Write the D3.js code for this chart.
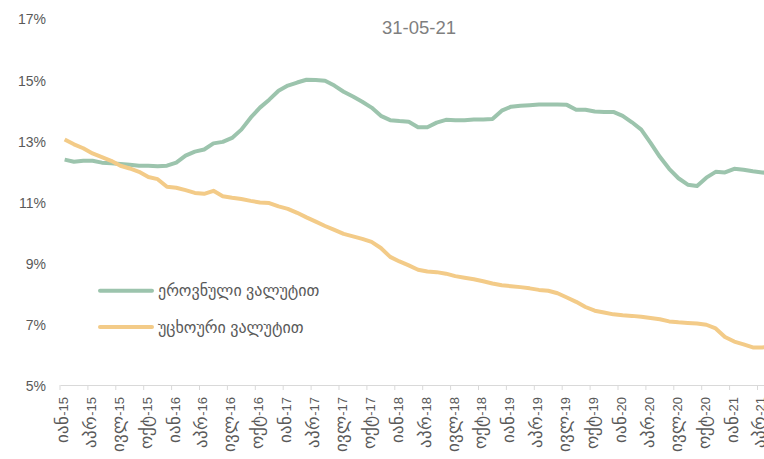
<!DOCTYPE html>
<html>
<head>
<meta charset="utf-8">
<script src="https://cdn.jsdelivr.net/npm/d3@7"></script>
<style>
  html, body { margin: 0; padding: 0; background: #fff; overflow: hidden; }
  svg { display: block; font-family: "Liberation Sans", "DejaVu Sans", sans-serif; }
</style>
</head>
<body>
<svg id="chart" width="764" height="459"></svg>
<script>
// Monthly series, Jan 2015 – May 2021 (percent)
const monthNames = ["იან", "თებ", "მარ", "აპრ", "მაი", "ივნ", "ივლ", "აგვ", "სექ", "ოქტ", "ნოე", "დეკ"];
const months = [];
for (let yr = 15; yr <= 21; yr++) {
  for (let m = 0; m < 12; m++) {
    if (yr === 21 && m > 4) break;
    months.push({ m, yr, label: monthNames[m] + "-" + yr });
  }
}

const nationalCurrency = [
  12.37, 12.30, 12.33, 12.33, 12.27, 12.25, 12.23, 12.20, 12.17, 12.17, 12.15, 12.17,
  12.27, 12.50, 12.63, 12.70, 12.90, 12.95, 13.08, 13.35, 13.74, 14.07, 14.33, 14.62,
  14.79, 14.89, 14.98, 14.97, 14.95, 14.79, 14.59, 14.43, 14.26, 14.07, 13.80, 13.66,
  13.63, 13.61, 13.43, 13.43, 13.58, 13.67, 13.66, 13.66, 13.68, 13.68, 13.70, 13.97,
  14.10, 14.13, 14.15, 14.17, 14.17, 14.17, 14.16, 14.00, 14.00, 13.94, 13.93, 13.93,
  13.80, 13.59, 13.35, 12.92, 12.46, 12.07, 11.76, 11.55, 11.51, 11.78, 11.97, 11.95,
  12.07, 12.04, 11.99, 11.95, 11.92
];

const foreignCurrency = [
  13.03, 12.87, 12.74, 12.57, 12.45, 12.33, 12.17, 12.08, 11.97, 11.80, 11.73, 11.48,
  11.45, 11.37, 11.28, 11.25, 11.35, 11.17, 11.12, 11.08, 11.02, 10.97, 10.95, 10.84,
  10.76, 10.63, 10.48, 10.34, 10.20, 10.07, 9.94, 9.86, 9.78, 9.68, 9.48, 9.19,
  9.04, 8.91, 8.77, 8.71, 8.69, 8.64, 8.56, 8.51, 8.46, 8.39, 8.32, 8.26,
  8.23, 8.20, 8.16, 8.11, 8.08, 8.00, 7.86, 7.72, 7.55, 7.43, 7.37, 7.31,
  7.28, 7.26, 7.23, 7.19, 7.15, 7.08, 7.05, 7.03, 7.01, 6.97, 6.85, 6.57,
  6.42, 6.33, 6.23, 6.23, 6.24
];

const yTicks = [5, 7, 9, 11, 13, 15, 17];
const seriesNames = ["ეროვნული ვალუტით", "უცხოური ვალუტით"];
const seriesColors = ["#9cc4ad", "#f3cb88"];
const subtitle = "31-05-21";

const svg = d3.select("#chart");
const plotLeft = 60, plotBottom = 385, plotTop = 18;
const step = 9.3;

const x = d3.scaleBand()
  .domain(months.map(d => d.label))
  .range([plotLeft, plotLeft + step * months.length])
  .paddingInner(0).paddingOuter(0);

const y = d3.scaleLinear().domain([5, 17]).range([plotBottom, plotTop]);

// Y axis labels (no line, no ticks)
const yAxis = svg.append("g")
  .attr("transform", `translate(${plotLeft - 14},0)`)
  .call(d3.axisLeft(y).tickValues(yTicks).tickFormat(d => d + "%").tickSize(0).tickPadding(0));
yAxis.select(".domain").remove();
yAxis.selectAll("text")
  .attr("fill", "#595959")
  .attr("dy", "0.42em")
  .style("font-size", "14px");

// X axis: quarterly labels, tick marks on band boundaries
const quarterLabels = months.filter(d => d.m % 3 === 0).map(d => d.label);
const xAxis = svg.append("g")
  .attr("transform", `translate(0,${plotBottom})`)
  .call(d3.axisBottom(x).tickValues(quarterLabels).tickSize(5).tickSizeOuter(0));
xAxis.select(".domain").attr("stroke", "#d9d9d9").attr("stroke-width", 1.2);
xAxis.selectAll(".tick line")
  .attr("stroke", "#d9d9d9")
  .attr("x1", -x.bandwidth() / 2).attr("x2", -x.bandwidth() / 2);
xAxis.selectAll(".tick text")
  .attr("fill", "#595959")
  .attr("text-anchor", "end")
  .attr("transform", "rotate(-90)")
  .attr("x", -12)
  .attr("y", 0)
  .attr("dy", "0.33em")
  .text(null)
  .each(function (d) {
    const [mon, yr] = d.split("-");
    const t = d3.select(this);
    t.append("tspan").style("font-size", "16.5px").text(mon);
    t.append("tspan").style("font-size", "13px").text("-" + yr);
  });

// Lines
const line = d3.line()
  .x((d, i) => x(months[i].label) + x.bandwidth() / 2)
  .y(d => y(d));

[nationalCurrency, foreignCurrency].forEach((vals, k) => {
  svg.append("path")
    .datum(vals)
    .attr("fill", "none")
    .attr("stroke", seriesColors[k])
    .attr("stroke-width", 4)
    .attr("stroke-linejoin", "round")
    .attr("d", line);
});

// Subtitle
svg.append("text")
  .attr("x", 419).attr("y", 33.5)
  .attr("text-anchor", "middle")
  .attr("fill", "#7f7f7f")
  .style("font-size", "18.5px")
  .text(subtitle);

// Legend
const legend = svg.append("g");
seriesNames.forEach((name, k) => {
  const ly = 290.7 + k * 36.3;
  legend.append("line")
    .attr("x1", 100).attr("x2", 152)
    .attr("y1", ly).attr("y2", ly)
    .attr("stroke", seriesColors[k])
    .attr("stroke-width", 4)
    .attr("stroke-linecap", "round");
  legend.append("text")
    .attr("x", 158).attr("y", ly)
    .attr("dy", "0.35em")
    .attr("fill", "#595959")
    .style("font-size", "16px")
    .text(name);
});
</script>
</body>
</html>
